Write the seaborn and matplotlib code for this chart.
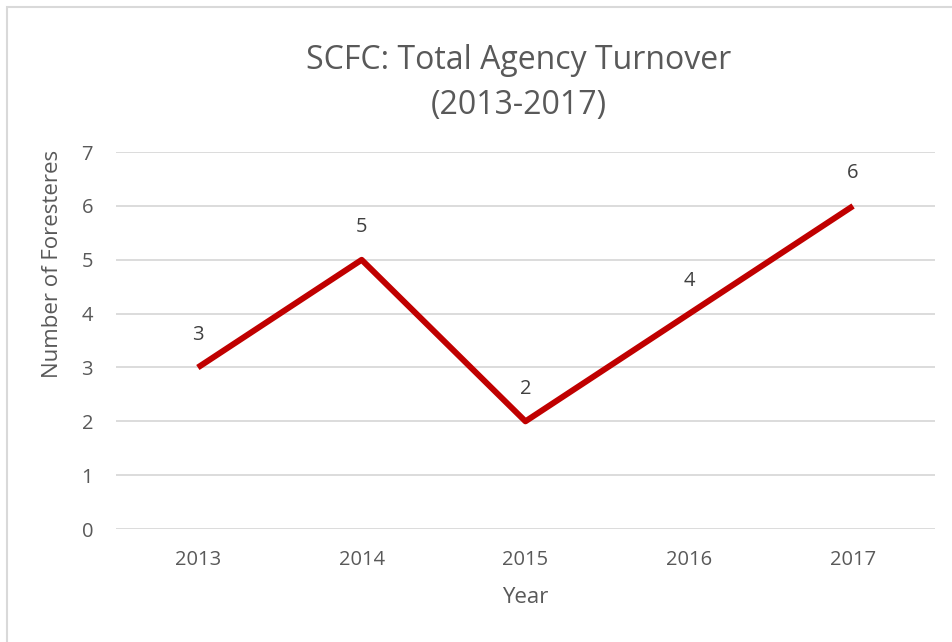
import matplotlib
matplotlib.use("Agg")
import matplotlib.pyplot as plt
import seaborn as sns
import pandas as pd
from matplotlib.patches import Rectangle

years = ["2013", "2014", "2015", "2016", "2017"]
foresters = [3, 5, 2, 4, 6]
y_ticks = [0, 1, 2, 3, 4, 5, 6, 7]

TEXT = "#595959"
GRID = "#D9D9D9"
LINE = "#C00000"

sns.set_theme(style="white")
plt.rcParams["font.family"] = ["Open Sans", "DejaVu Sans"]

df = pd.DataFrame({"Year": years, "Foresters": foresters})

fig = plt.figure(figsize=(9.52, 6.42), dpi=100)
ax = fig.add_axes([0.1218, 0.176, 0.8603, 0.587])

sns.lineplot(data=df, x="Year", y="Foresters", color=LINE, linewidth=4.3,
             ax=ax, solid_capstyle="butt")

# data labels above each point
for i, v in enumerate(foresters):
    ax.annotate(str(v), (i, v), xytext=(0, 23.5), textcoords="offset points",
                ha="center", va="center", fontsize=14.5, color="#404040")

ax.set_xlim(-0.5, len(years) - 0.5)
ax.set_ylim(0, 7)
ax.set_yticks(y_ticks)
ax.yaxis.grid(True, color=GRID, linewidth=1.3)
ax.xaxis.grid(False)
for s in ax.spines.values():
    s.set_visible(False)
ax.tick_params(axis="both", length=0, colors=TEXT, labelsize=14.5)
ax.tick_params(axis="x", pad=15)
ax.tick_params(axis="y", pad=16.5)

ax.set_xlabel("Year", fontsize=16, color=TEXT, va="center")
ax.xaxis.set_label_coords(0.5, -0.183)
ax.set_ylabel("Number of Foresteres", fontsize=16, color=TEXT, va="center")
ax.yaxis.set_label_coords(-0.078, 0.703)

fig.text(0.545, 0.871, "SCFC: Total Agency Turnover\n(2013-2017)", ha="center",
         va="center", fontsize=23, color=TEXT, linespacing=1.47)

# chart area border
fig.patches.append(Rectangle((7 / 952, -0.1), 1.2, 1.1 - 7 / 642,
                             transform=fig.transFigure, fill=False,
                             edgecolor="#D9D9D9", linewidth=1.5))

fig.savefig("out.png", dpi=100)
